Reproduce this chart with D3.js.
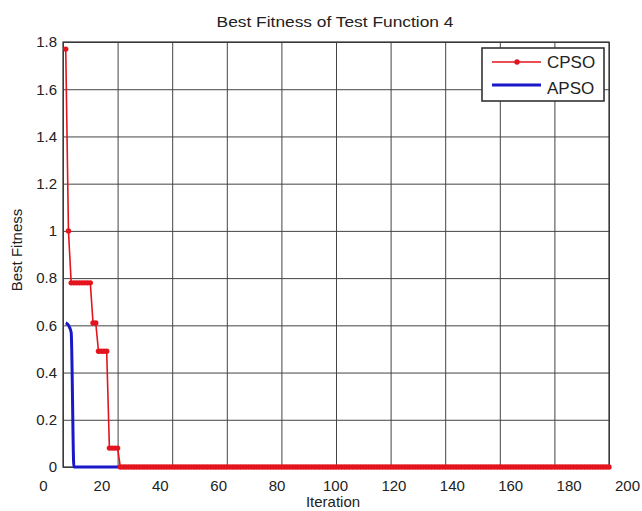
<!DOCTYPE html>
<html>
<head>
<meta charset="utf-8">
<script src="https://cdn.jsdelivr.net/npm/d3@7"></script>
<style>
  html, body { margin: 0; padding: 0; background: #fff; }
  svg { display: block; }
  text { font-family: "Liberation Sans", Arial, sans-serif; fill: #222; }
</style>
</head>
<body>
<svg id="chart" width="642" height="511"></svg>
<script>
// ---------------- data ----------------
const title = "Best Fitness of Test Function 4";
const xLabel = "Iteration";
const yLabel = "Best Fitness";
const seriesNames = ["CPSO", "APSO"];
const xTicks = [0, 20, 40, 60, 80, 100, 120, 140, 160, 180, 200];
const yTicks = [0, 0.2, 0.4, 0.6, 0.8, 1, 1.2, 1.4, 1.6, 1.8];

// best fitness per iteration (iterations 1..200)
const cpso = [
  1.77, 1.00, 0.78, 0.78, 0.78, 0.78, 0.78, 0.78, 0.78, 0.78,
  0.61, 0.61, 0.49, 0.49, 0.49, 0.49, 0.08, 0.08, 0.08, 0.08,
  0, 0, 0, 0, 0, 0, 0, 0, 0, 0, 0, 0, 0, 0, 0, 0, 0, 0, 0, 0,
  0, 0, 0, 0, 0, 0, 0, 0, 0, 0, 0, 0, 0, 0, 0, 0, 0, 0, 0, 0,
  0, 0, 0, 0, 0, 0, 0, 0, 0, 0, 0, 0, 0, 0, 0, 0, 0, 0, 0, 0,
  0, 0, 0, 0, 0, 0, 0, 0, 0, 0, 0, 0, 0, 0, 0, 0, 0, 0, 0, 0,
  0, 0, 0, 0, 0, 0, 0, 0, 0, 0, 0, 0, 0, 0, 0, 0, 0, 0, 0, 0,
  0, 0, 0, 0, 0, 0, 0, 0, 0, 0, 0, 0, 0, 0, 0, 0, 0, 0, 0, 0,
  0, 0, 0, 0, 0, 0, 0, 0, 0, 0, 0, 0, 0, 0, 0, 0, 0, 0, 0, 0,
  0, 0, 0, 0, 0, 0, 0, 0, 0, 0, 0, 0, 0, 0, 0, 0, 0, 0, 0, 0,
  0, 0, 0, 0, 0, 0, 0, 0, 0, 0, 0, 0, 0, 0, 0, 0, 0, 0, 0, 0
];
const apso = [
  0.61, 0.60, 0.57, 0, 0, 0, 0, 0, 0, 0,
  0, 0, 0, 0, 0, 0, 0, 0, 0, 0,
  0, 0, 0, 0, 0, 0, 0, 0, 0, 0, 0, 0, 0, 0, 0, 0, 0, 0, 0, 0,
  0, 0, 0, 0, 0, 0, 0, 0, 0, 0, 0, 0, 0, 0, 0, 0, 0, 0, 0, 0,
  0, 0, 0, 0, 0, 0, 0, 0, 0, 0, 0, 0, 0, 0, 0, 0, 0, 0, 0, 0,
  0, 0, 0, 0, 0, 0, 0, 0, 0, 0, 0, 0, 0, 0, 0, 0, 0, 0, 0, 0,
  0, 0, 0, 0, 0, 0, 0, 0, 0, 0, 0, 0, 0, 0, 0, 0, 0, 0, 0, 0,
  0, 0, 0, 0, 0, 0, 0, 0, 0, 0, 0, 0, 0, 0, 0, 0, 0, 0, 0, 0,
  0, 0, 0, 0, 0, 0, 0, 0, 0, 0, 0, 0, 0, 0, 0, 0, 0, 0, 0, 0,
  0, 0, 0, 0, 0, 0, 0, 0, 0, 0, 0, 0, 0, 0, 0, 0, 0, 0, 0, 0,
  0, 0, 0, 0, 0, 0, 0, 0, 0, 0, 0, 0, 0, 0, 0, 0, 0, 0, 0, 0
];

// ---------------- layout ----------------
const svg = d3.select("#chart");
const L = 63, R = 609, T = 42, B = 467;
const colors = { CPSO: "#e3141e", APSO: "#1818c8" };
const gridColor = "#444";
const font = "Liberation Sans, Arial, sans-serif";

const x = d3.scaleLinear().domain([0, 200]).range([L, R]);
const y = d3.scaleLinear().domain([0, 1.8]).range([B, T]);
// tick labels in the reference are spread a bit wider than the plot box
const xLab = d3.scaleLinear().domain([0, 200]).range([43, 627]);

// grid
svg.append("g")
  .attr("transform", `translate(0,${B})`)
  .call(d3.axisBottom(x).tickValues(xTicks).tickSize(-(B - T)).tickFormat(""))
  .call(g => g.select(".domain").remove())
  .call(g => g.selectAll("line").attr("stroke", gridColor).attr("stroke-width", 1));
svg.append("g")
  .attr("transform", `translate(${L},0)`)
  .call(d3.axisLeft(y).tickValues(yTicks).tickSize(-(R - L)).tickFormat(""))
  .call(g => g.select(".domain").remove())
  .call(g => g.selectAll("line").attr("stroke", gridColor).attr("stroke-width", 1));

// box
svg.append("rect")
  .attr("x", L).attr("y", T).attr("width", R - L).attr("height", B - T)
  .attr("fill", "none").attr("stroke", "#333").attr("stroke-width", 1.2);

// y tick labels
svg.append("g")
  .attr("transform", `translate(${L},0)`)
  .call(d3.axisLeft(y).tickValues(yTicks).tickSize(0).tickPadding(6).tickFormat(d3.format("~g")))
  .call(g => g.select(".domain").remove())
  .call(g => g.selectAll("text").attr("font-size", 15).attr("fill", "#222").style("font-family", font));

// x tick labels
svg.append("g")
  .attr("transform", `translate(0,${B})`)
  .call(d3.axisBottom(xLab).tickValues(xTicks).tickSize(0).tickPadding(13).tickFormat(d3.format("d")))
  .call(g => g.select(".domain").remove())
  .call(g => g.selectAll("text").attr("font-size", 15).attr("fill", "#222").style("font-family", font));

// series
const line = d3.line().x((d, i) => x(i + 1)).y(d => y(d)).curve(d3.curveMonotoneX);
const stepLine = d3.line().x((d, i) => x(i + 1)).y(d => y(d));
svg.append("path").datum(apso)
  .attr("d", line).attr("fill", "none")
  .attr("stroke", colors.APSO).attr("stroke-width", 3)
  .attr("stroke-linejoin", "round");
svg.append("path").datum(cpso)
  .attr("d", stepLine).attr("fill", "none")
  .attr("stroke", colors.CPSO).attr("stroke-width", 1.6);
svg.append("g").selectAll("circle").data(cpso).join("circle")
  .attr("cx", (d, i) => x(i + 1)).attr("cy", d => y(d)).attr("r", 2.7)
  .attr("fill", colors.CPSO);

// titles
svg.append("text").attr("x", 335).attr("y", 27).attr("text-anchor", "middle")
  .attr("font-size", 15.5).text(title)
  .attr("transform", "translate(335,0) scale(1.12,1) translate(-335,0)");
svg.append("text").attr("x", 333).attr("y", 507).attr("text-anchor", "middle")
  .attr("font-size", 15).text(xLabel);
svg.append("text").attr("transform", "translate(22,250) rotate(-90)")
  .attr("text-anchor", "middle").attr("font-size", 15).text(yLabel);

// legend
const lg = svg.append("g");
lg.append("rect").attr("x", 482).attr("y", 48).attr("width", 122).attr("height", 53)
  .attr("fill", "#fff").attr("stroke", "#333").attr("stroke-width", 1.6);
const legY = [62, 85];
seriesNames.forEach((name, k) => {
  lg.append("line").attr("x1", 492).attr("x2", 541).attr("y1", legY[k]).attr("y2", legY[k])
    .attr("stroke", colors[name]).attr("stroke-width", name === "APSO" ? 3 : 1.6);
  if (name === "CPSO") {
    lg.append("circle").attr("cx", 517).attr("cy", legY[k]).attr("r", 2.7).attr("fill", colors[name]);
  }
  lg.append("text").attr("x", 547).attr("y", legY[k] + 6 + (k === 1 ? 3 : 0))
    .attr("font-size", 17).text(name);
});
</script>
</body>
</html>
